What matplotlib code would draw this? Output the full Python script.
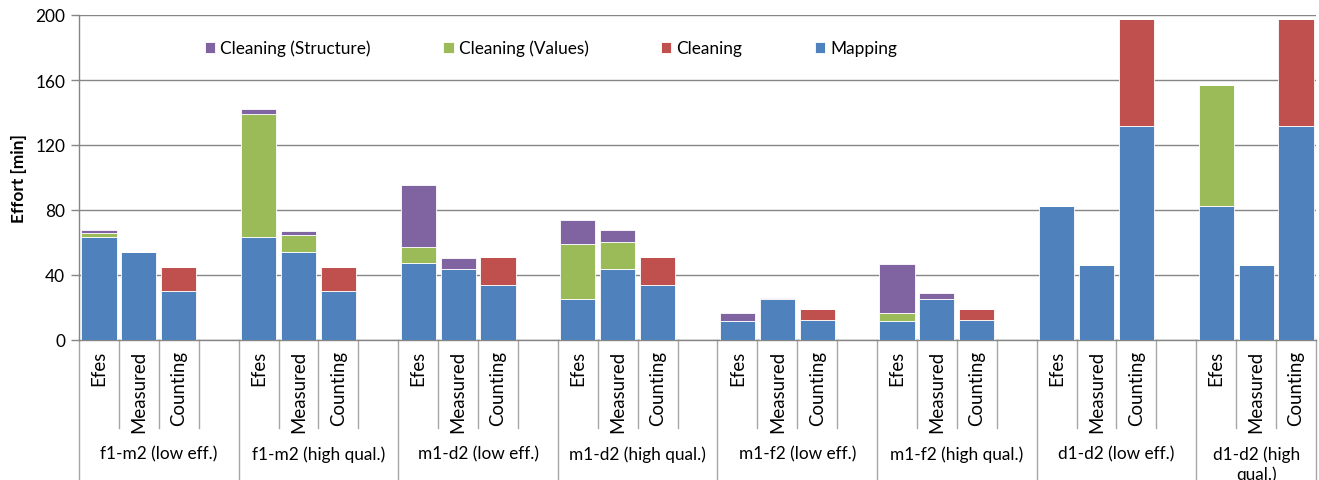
import matplotlib
matplotlib.use("Agg")
import matplotlib.pyplot as plt
import numpy as np

plt.rcParams['font.family'] = ['Lato', 'DejaVu Sans']

groups = ["f1-m2 (low eff.)", "f1-m2 (high qual.)", "m1-d2 (low eff.)", "m1-d2 (high qual.)",
          "m1-f2 (low eff.)", "m1-f2 (high qual.)", "d1-d2 (low eff.)", "d1-d2 (high\nqual.)"]
methods = ["Efes", "Measured", "Counting"]

mapping   = [63.5, 54, 30,   63.5, 54, 30,   47.5, 43.5, 34,  25.5, 43.5, 34,
             11.5, 25, 12.5, 11.5, 25, 12.5, 82.5, 46, 132,   82.5, 46, 132]
cleaning  = [0, 0, 15,   0, 0, 15,   0, 0, 17,   0, 0, 17,
             0, 0, 6.5,  0, 0, 6.5,  0, 0, 65.5, 0, 0, 65.5]
values    = [2.5, 0, 0,  75.5, 10.5, 0,  10, 0, 0,  33.5, 17, 0,
             0, 0, 0,    5, 0, 0,        0, 0, 0,   74.5, 0, 0]
structure = [2, 0, 0,    3, 2.5, 0,  38, 7, 0,  15, 7, 0,
             5, 0.6, 0,  30, 4, 0,   0, 0, 0,   0, 0, 0]

series = [("Mapping", mapping, "#4F81BD"),
          ("Cleaning", cleaning, "#C0504D"),
          ("Cleaning (Values)", values, "#9BBB59"),
          ("Cleaning (Structure)", structure, "#8064A2")]

FS = 12.4

W, H = 1319, 481
fig = plt.figure(figsize=(W / 100, H / 100), dpi=100)
ax = fig.add_axes([79 / W, 1 - 341 / H, (1316 - 79) / W, (341 - 16) / H])

n_slots = len(groups) * 4 - 1
pos = np.array([g * 4 + m for g in range(len(groups)) for m in range(len(methods))])

bottom = np.zeros(len(pos))
handles = {}
for name, vals, col in series:
    v = np.array(vals, dtype=float)
    h = ax.bar(pos, v, width=0.88, bottom=bottom, color=col, edgecolor='white',
               linewidth=0.6, label=name, zorder=3)
    handles[name] = h
    bottom += v

ax.set_xlim(-0.5, n_slots - 0.5)
ax.set_ylim(0, 200)
ax.set_yticks(np.arange(0, 201, 40))
ax.yaxis.grid(True, color='#868686', linewidth=1.0, zorder=0)
ax.set_axisbelow(True)
for s in ['top', 'right']:
    ax.spines[s].set_visible(False)
for s in ['left', 'bottom']:
    ax.spines[s].set_color('#868686')
    ax.spines[s].set_linewidth(1.0)
ax.tick_params(axis='y', colors='#868686', length=6, width=1, labelcolor='black',
               labelsize=FS, pad=4)
ax.set_xticks([])
ax.set_ylabel("Effort [min]", fontsize=FS, fontweight='bold', labelpad=6)

# multi-level category axis
tr = ax.get_xaxis_transform()
inner_end = -(429 - 341) / 325
outer_end = -(481 - 341) / 325 - 0.05
for k in range(n_slots + 1):
    x = k - 0.5
    end = outer_end if (k % 4 == 0 or k == n_slots) else inner_end
    ax.plot([x, x], [0, end], transform=tr, color='#A6A6A6', lw=1.0,
            clip_on=False, zorder=1)

lab_top = -(351 - 341) / 325
for p, m in zip(pos, [methods[i % 3] for i in range(len(pos))]):
    ax.text(p, lab_top, m, transform=tr, rotation=90, ha='center', va='top',
            fontsize=13.4)

grp_y = -(446 - 341) / 325
for g, name in enumerate(groups):
    nslot = 4 if g < len(groups) - 1 else 3
    cx = g * 4 - 0.5 + nslot / 2
    ax.text(cx, grp_y, name, transform=tr, ha='center', va='top', fontsize=FS,
            linespacing=1.3)

order = ["Cleaning (Structure)", "Cleaning (Values)", "Cleaning", "Mapping"]
fig.legend([handles[o] for o in order], order, loc='center left',
           bbox_to_anchor=(205 / W, 1 - 49 / H), ncol=4, frameon=False,
           fontsize=FS, handlelength=0.6, handleheight=0.6, handletextpad=0.3,
           columnspacing=4.2, borderpad=0, borderaxespad=0)

fig.savefig("out.png", dpi=100)
